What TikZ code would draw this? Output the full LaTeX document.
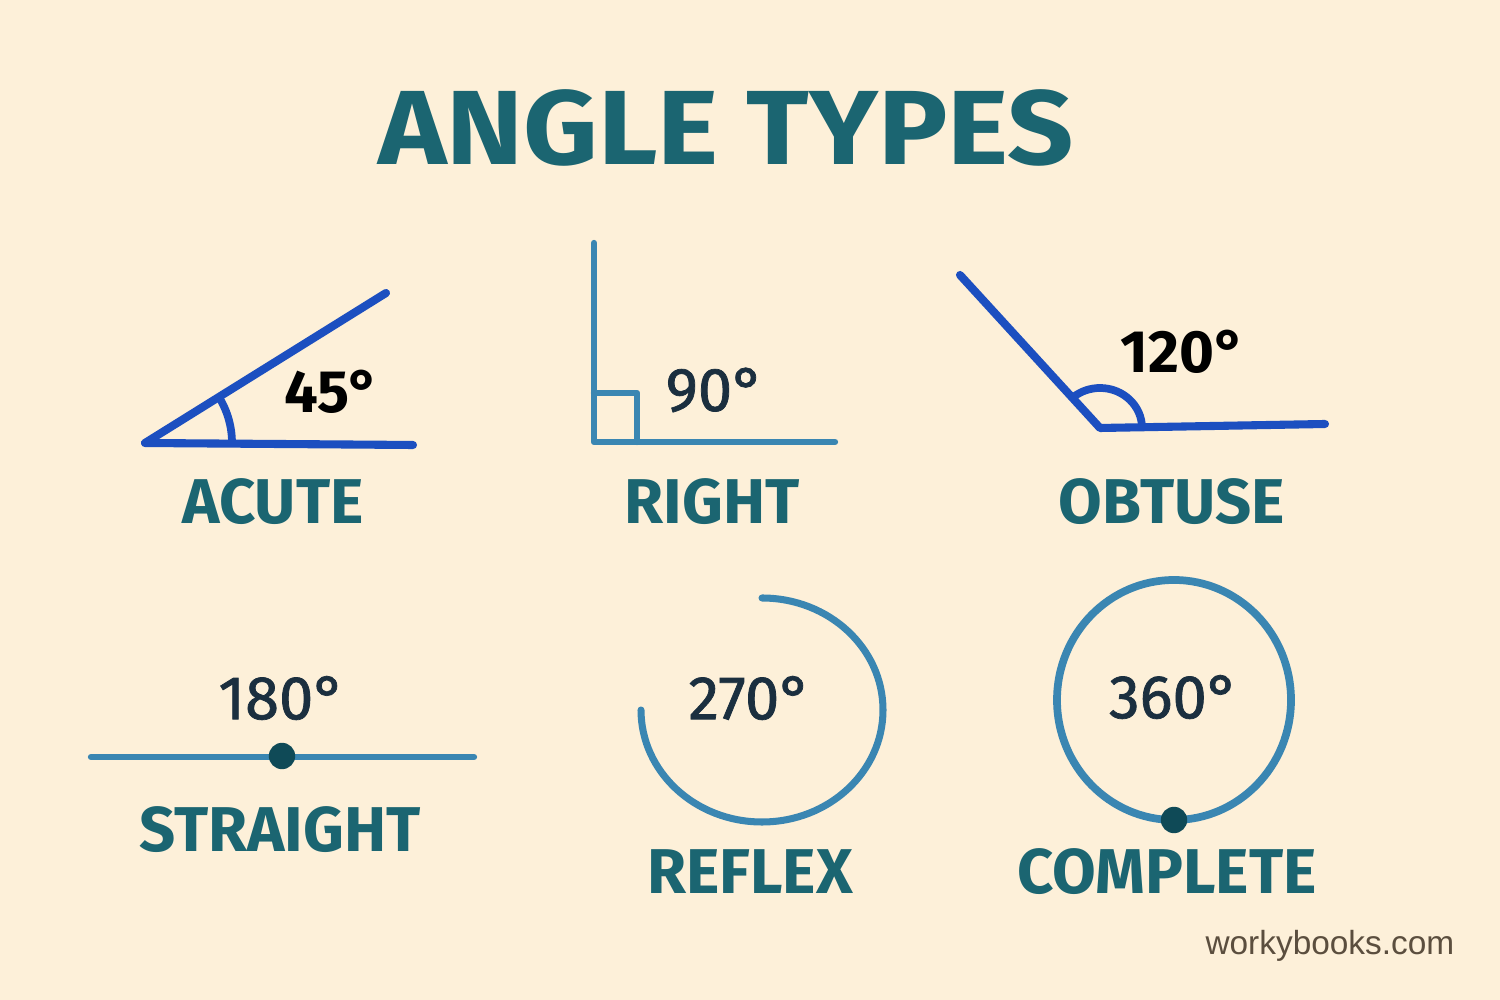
\documentclass[tikz,border=0pt]{standalone}
\usepackage{fontspec}
\setmainfont{Fira Sans}
\newfontfamily\urlfont{Liberation Sans}
\newfontfamily\midfont[FakeBold=1.2]{Fira Sans}
\definecolor{paper}{HTML}{FDF0D9}
\definecolor{titleteal}{HTML}{1B6571}
\definecolor{royal}{HTML}{1C4FC0}
\definecolor{steel}{HTML}{3A86B2}
\definecolor{deepteal}{HTML}{0F4A57}
\definecolor{navy}{HTML}{1B2F3F}
\definecolor{brownink}{HTML}{5B4E3E}
\begin{document}
\begin{tikzpicture}[x=0.01cm, y=0.01cm,
    kind/.style={text=titleteal, font=\fontsize{18}{20}\selectfont\bfseries},
    degbold/.style={text=black, font=\fontsize{17}{20}\selectfont\bfseries},
    deg/.style={text=navy, font=\midfont\fontsize{17.5}{20}\selectfont},
    boldray/.style={royal, line width=2.3pt, line cap=round, line join=round},
    thinray/.style={steel, line width=1.8pt, line cap=round, line join=round},
    pin/.style={circle, fill=deepteal, inner sep=0pt, minimum size=7.5pt}]
  \fill[paper] (0,0) rectangle (1500,1000);

  \node[text=titleteal, font=\fontsize{30}{34}\selectfont\bfseries](title) at (726,872){\scalebox{1.1}[1]{ANGLE TYPES}};

  % acute
  \coordinate (acV) at (145,557);
  \draw[boldray] (386,707) -- (acV) -- (413,555);
  \draw[royal, line width=2.2pt] (acV) ++(0:87) arc[start angle=0, end angle=32, radius=87];
  \node[degbold](acDeg) at (332,608){45°};
  \node[kind](acute) at (273,498){ACUTE};

  % right
  \draw[thinray] (594,757) -- (594,558) -- (835,558);
  \draw[thinray] (594,607) -- (637,607) -- (637,558);
  \node[deg](riDeg) at (715,610){90°};
  \node[kind](right) at (712,498){RIGHT};

  % obtuse
  \coordinate (obV) at (1100,572);
  \draw[boldray] (960,725) -- (obV) -- (1325,576);
  \draw[royal, line width=2.2pt] (obV) ++(0:42) arc[start angle=0, end angle=128, x radius=42, y radius=40];
  \node[degbold](obDeg) at (1183,648){120°};
  \node[kind](obtuse) at (1172,498){OBTUSE};

  % straight
  \draw[thinray] (91,243) -- (474,243);
  \node[pin](stDot) at (282,244){};
  \node[deg](stDeg) at (282,302){180°};
  \node[kind](straight) at (280,170){STRAIGHT};

  % reflex
  \draw[thinray, line width=2pt] (762,402) arc[start angle=90, end angle=-180, x radius=121, y radius=112];
  \node[deg](reDeg) at (750,302){270°};
  \node[kind](reflex) at (750,128){REFLEX};

  % complete
  \draw[thinray, line width=2.2pt] (1174,300) ellipse[x radius=117, y radius=120];
  \node[pin](coDot) at (1174,180){};
  \node[deg](coDeg) at (1174,303){360°};
  \node[kind](complete) at (1167,128){COMPLETE};

  \node[anchor=east, inner sep=0pt, text=brownink, font=\urlfont\fontsize{9.5}{11}\selectfont](site) at (1455,54){workybooks.com};
\end{tikzpicture}
\end{document}
